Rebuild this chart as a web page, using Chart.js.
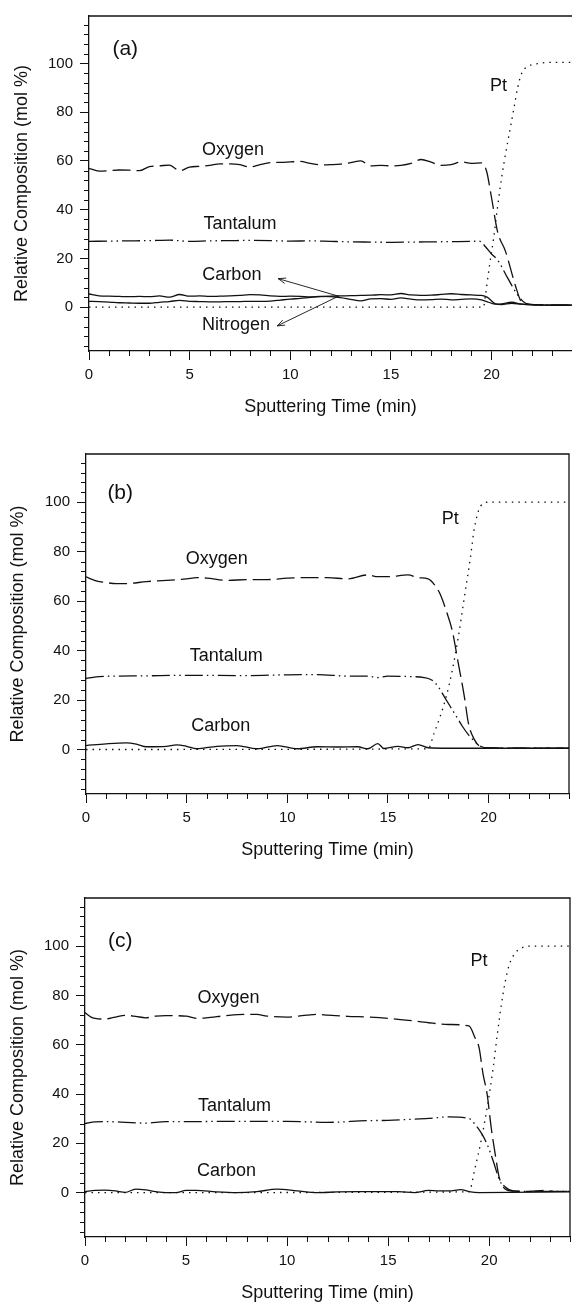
<!DOCTYPE html>
<html>
<head>
<meta charset="utf-8">
<script src="https://cdn.jsdelivr.net/npm/chart.js@4.4.1/dist/chart.umd.min.js"></script>
<style>
  html, body { margin: 0; padding: 0; background: #fff; width: 572px; height: 1305px; overflow: hidden; }
  canvas { position: absolute; left: 0; }
</style>
</head>
<body>
<canvas id="chartA" width="572" height="426" style="top:0px"></canvas>
<canvas id="chartB" width="572" height="443" style="top:426px"></canvas>
<canvas id="chartC" width="572" height="443" style="top:869px"></canvas>
<script>
// ---- panel (a) ----
const tA_O = [0,0.5,1,1.5,2,2.5,3,3.5,4,4.5,5,5.5,6,6.5,7,7.5,8,8.5,9,9.5,10,10.5,11,11.5,12,12.5,13,13.5,14,14.5,15,15.5,16,16.5,17,17.5,18,18.5,19,19.5,19.75,20.0,20.3,20.7,21.2,21.5,21.8,22.5,24];
const oxygenA = [57,55.8,56,56.3,56.2,56,57.7,58,58.3,56,57.5,57.8,58.2,58.8,58.8,58.5,57.5,58.5,59.3,59.4,59.6,59.8,59,58.4,58.5,58.7,59.3,60,58,58.2,58,58.2,59,60.6,59.5,58.2,58.5,59.6,59,59.2,56,45,31,22.8,8.5,2,1.2,0.9,0.8];
const tA_T = [0,1,2,3,4,5,6,7,8,9,10,11,12,13,14,15,16,17,18,19,19.4,19.7,20,20.3,20.8,21.3,21.7,22.2,24];
const tantalumA = [27,27.1,27.2,27.3,27.5,27.0,27.2,27.3,27.4,27.3,27.1,27.2,27.0,26.8,26.7,26.6,26.7,26.8,26.9,27.0,27.1,24.8,21.8,19.4,12,5,1.6,1,0.8];
const tA_P = [0,19.6,19.7,19.9,20.1,20.3,20.5,20.7,20.9,21.1,21.3,21.5,21.8,22.2,23,24];
const platinumA = [0,0,5,17,28,41,53,63,72,81,90,96,98.8,99.8,100.5,100.5];
const tA_CN = [0,0.5,1,1.5,2,2.5,3,3.5,4,4.5,5,5.5,6,6.5,7,7.5,8,8.5,9,9.5,10,10.5,11,11.5,12,12.5,13,13.5,14,14.5,15,15.5,16,16.5,17,17.5,18,18.5,19,19.5,19.8,20.2,20.5,21,21.5,22,23,24];
const carbonA = [5.4,4.6,4.5,4.4,4.3,4.4,4.3,4.6,4.1,5.2,4.5,4.6,4.4,4.5,4.6,4.8,5.1,5.0,4.6,4.4,4.5,4.4,4.2,4.4,4.3,3.9,3.2,2.6,3.4,3.5,3.2,3.8,3.3,3.0,3.1,3.3,3.0,3.2,3.4,3.0,2.2,1.2,1.3,2.0,1.2,0.9,0.8,0.8];
const nitrogenA = [2.4,2.3,2.1,1.8,1.7,1.6,1.6,2.0,2.3,2.8,2.4,2.3,2.2,2.2,2.3,2.3,2.4,2.4,2.5,2.9,3.3,3.6,4.0,4.3,4.5,4.6,4.7,4.8,4.9,5.1,5.0,5.6,5.0,4.8,4.9,5.2,5.5,5.2,5.0,4.8,4.0,1.3,1.0,1.6,1.2,1.0,0.8,0.8];

// ---- panel (b) ----
const tB_O = [0,0.5,1,1.5,2,3,4,5,5.5,6,7,8,9,10,11,12,13,14,14.5,15,16,16.5,17,17.3,17.6,17.9,18.2,18.5,18.8,19,19.3,19.6,20,24];
const oxygenB = [69.8,68.2,67.5,67.1,67.1,67.9,68.4,69,69.5,69.3,68.4,68.7,68.7,69.3,69.5,69.5,69,70.6,69.9,69.9,70.6,69.5,69,66.8,62.8,56.1,48,34.8,21.4,10.7,4,1.1,0.6,0.5];
const tB_T = [0,0.5,1,3,5,8,10,11.5,13,14,14.5,15,16,16.8,17.2,17.5,17.8,18.1,18.4,18.7,19,19.3,19.6,20,24];
const tantalumB = [28.7,29.4,29.6,29.8,30,29.9,30.2,30.3,29.7,29.7,29.1,29.7,29.5,29.1,28,25.4,21.4,17.4,13.4,9.4,6,3.3,1.3,0.6,0.5];
const tB_C = [0,1,2,2.5,3,4,4.5,5,5.5,6.5,7.5,8.5,9.5,10.5,11.5,12.5,13.5,14,14.5,14.8,15.5,16,16.5,17,18,24];
const carbonB = [1.6,2.3,2.7,2.2,1.1,1.3,1.9,1.3,0.3,1.3,1.6,0.3,1.6,0.3,1.1,1.0,1.1,0.3,2.4,0.4,1.3,0.7,2.0,0.7,0.5,0.5];
const tB_P = [0,17,17.3,17.6,17.9,18.2,18.5,18.8,19.1,19.3,19.6,20,24];
const platinumB = [0,0.3,6.7,13.4,21.4,32,45.5,61.5,77.5,89.6,98.3,100,100];

// ---- panel (c) ----
const tC_O = [0,0.3,0.5,1,1.5,2,2.5,3,3.5,4,5,5.5,6,7,8,8.5,9,10,11,11.5,12,13,14,15,16,17,18,19,19.3,19.5,19.7,19.9,20.1,20.3,20.5,20.8,21.2,22,22.7,23.2,24];
const oxygenC = [73,71.2,70.7,70.4,71.2,71.9,71.5,70.9,71.6,71.8,71.6,70.7,70.9,71.8,72.3,72.3,71.6,71.2,72,72.3,72,71.5,71.2,70.7,69.9,68.9,68.2,67.6,62.8,58.8,48,39.9,26.4,15.5,6.1,2.3,0.7,0.5,0.9,0.5,0.5];
const tC_T = [0,0.5,1,3,4,5,7,10,12,14,15,16,17,18,19,19.3,19.6,19.9,20.2,20.5,20.8,21.2,22,24];
const tantalumC = [28,28.7,28.8,28.2,28.8,28.8,28.9,28.9,28.5,29.2,29.3,29.7,30.1,30.7,30.1,27.7,24.3,19.6,12.8,5.4,1.4,0.6,0.5,0.5];
const tC_C = [0,0.5,1,1.5,2,2.5,3,3.5,4,4.5,5,5.5,6.5,7.5,8.5,9.5,10.5,11.5,12.5,13.5,14.5,15.5,16.3,17,17.5,18,18.6,19,19.5,24];
const carbonC = [0.4,0.9,1.0,0.7,0.1,1.4,1.1,0.4,0,0,0.9,0.9,0.3,0,0.4,1.4,0.7,0,0.3,0.4,0.4,0.4,0,0.9,0.7,0.7,1.2,0.4,0,0.3];
const tC_P = [0,19,19.3,19.6,19.9,20.2,20.4,20.6,20.8,21,21.3,21.7,22,24];
const platinumC = [0,0.3,10,21,34.5,50.7,64,76,85.8,92.6,97.3,99.6,100,100];

// ticks
const xTickLabels = [0, 5, 10, 15, 20];
const yTickLabels = [0, 20, 40, 60, 80, 100];

const FONT = "'Liberation Sans', Arial, Helvetica, sans-serif";
const INK = '#111';

function zip(xs, ys) {
    return xs.map((x, i) => ({ x: x, y: ys[i] }));
}

function series(xs, ys, dash) {
    return {
        data: zip(xs, ys),
        borderColor: INK,
        borderWidth: 1.3,
        borderDash: dash,
        pointRadius: 0,
        fill: false,
        cubicInterpolationMode: 'monotone',
        borderCapStyle: 'butt'
    };
}

const DASH_O = [18, 6];
const DASH_T = [18, 4, 1.5, 4, 1.5, 4];
const DASH_P = [1.5, 5];

// frame, minor ticks, in-plot labels and arrows
const decor = {
    id: 'decor',
    afterDraw(chart, args, opts) {
        const ctx = chart.ctx;
        const a = chart.chartArea;
        const x = chart.scales.x, y = chart.scales.y;
        ctx.save();
        ctx.strokeStyle = INK;
        ctx.lineWidth = 1.3;
        ctx.beginPath();
        ctx.moveTo(a.left, a.top);
        ctx.lineTo(a.right, a.top);
        if (!opts.noRight) ctx.lineTo(a.right, a.bottom);
        ctx.stroke();

        ctx.lineWidth = 1;
        ctx.beginPath();
        for (let v = 1; v <= 24; v++) {
            if (v % 5 === 0) continue;
            const px = Math.round(x.getPixelForValue(v)) + 0.5;
            ctx.moveTo(px, a.bottom);
            ctx.lineTo(px, a.bottom + 5);
        }
        for (let v = -16; v <= 116; v += 4) {
            if (v % 20 === 0) continue;
            const py = Math.round(y.getPixelForValue(v)) + 0.5;
            ctx.moveTo(a.left - 5, py);
            ctx.lineTo(a.left, py);
        }
        ctx.stroke();

        ctx.fillStyle = INK;
        ctx.textAlign = 'center';
        ctx.textBaseline = 'middle';
        (opts.labels || []).forEach(l => {
            ctx.font = (l.size || 18) + 'px ' + FONT;
            ctx.fillText(l.text, x.getPixelForValue(l.t), y.getPixelForValue(l.v));
        });

        ctx.lineWidth = 0.9;
        (opts.arrows || []).forEach(ar => {
            const x0 = x.getPixelForValue(ar.from[0]), y0 = y.getPixelForValue(ar.from[1]);
            const x1 = x.getPixelForValue(ar.to[0]), y1 = y.getPixelForValue(ar.to[1]);
            const ang = Math.atan2(y1 - y0, x1 - x0);
            ctx.beginPath();
            ctx.moveTo(x0, y0);
            ctx.lineTo(x1, y1);
            ctx.moveTo(x1 - 8 * Math.cos(ang - 0.35), y1 - 8 * Math.sin(ang - 0.35));
            ctx.lineTo(x1, y1);
            ctx.lineTo(x1 - 8 * Math.cos(ang + 0.35), y1 - 8 * Math.sin(ang + 0.35));
            ctx.stroke();
        });
        ctx.restore();
    }
};

function makeChart(id, datasets, p) {
    return new Chart(document.getElementById(id), {
        type: 'line',
        data: { datasets: datasets },
        plugins: [decor],
        options: {
            responsive: false,
            animation: false,
            devicePixelRatio: 1,
            layout: { padding: { top: p.padTop, right: p.padRight, left: 0, bottom: 0 } },
            plugins: {
                legend: { display: false },
                tooltip: { enabled: false },
                decor: { labels: p.labels, arrows: p.arrows, noRight: p.noRight }
            },
            scales: {
                x: {
                    type: 'linear',
                    min: 0,
                    max: 24,
                    afterBuildTicks: s => { s.ticks = xTickLabels.map(v => ({ value: v })); },
                    afterFit: s => { s.height = 75; },
                    grid: { drawOnChartArea: false, tickLength: 9, color: INK, lineWidth: 1 },
                    border: { display: true, color: INK, width: 1.3 },
                    ticks: { color: INK, font: { family: FONT, size: 15 }, padding: 6, maxRotation: 0 },
                    title: { display: true, text: 'Sputtering Time (min)', color: INK, font: { family: FONT, size: 18 }, padding: { top: 0, bottom: 8 } }
                },
                y: {
                    type: 'linear',
                    min: -18,
                    max: 119.5,
                    afterBuildTicks: s => { s.ticks = yTickLabels.map(v => ({ value: v })); },
                    afterFit: s => { s.width = p.leftW; },
                    grid: { drawOnChartArea: false, tickLength: 9, color: INK, lineWidth: 1 },
                    border: { display: true, color: INK, width: 1.3 },
                    ticks: { color: INK, font: { family: FONT, size: 15 }, padding: 7 },
                    title: { display: true, text: 'Relative Composition (mol %)', color: INK, font: { family: FONT, size: 18 }, padding: { top: p.titleX, bottom: 0 } }
                }
            }
        }
    });
}

makeChart('chartA', [
    series(tA_P, platinumA, DASH_P),
    series(tA_CN, carbonA, []),
    series(tA_CN, nitrogenA, []),
    series(tA_T, tantalumA, DASH_T),
    series(tA_O, oxygenA, DASH_O)
], {
    padTop: 13, padRight: 0, leftW: 89, titleX: 11, noRight: true,
    labels: [
        { text: '(a)', t: 1.8, v: 106, size: 21 },
        { text: 'Oxygen', t: 7.15, v: 64.4 },
        { text: 'Tantalum', t: 7.5, v: 34 },
        { text: 'Carbon', t: 7.1, v: 13 },
        { text: 'Nitrogen', t: 7.3, v: -7.3 },
        { text: 'Pt', t: 20.35, v: 90.8 }
    ],
    arrows: [
        { from: [12.4, 4.5], to: [9.4, 11.7] },
        { from: [12.4, 4.5], to: [9.35, -7.7] }
    ]
});

makeChart('chartB', [
    series(tB_P, platinumB, DASH_P),
    series(tB_C, carbonB, []),
    series(tB_T, tantalumB, DASH_T),
    series(tB_O, oxygenB, DASH_O)
], {
    padTop: 28, padRight: 3, leftW: 86, titleX: 7,
    labels: [
        { text: '(b)', t: 1.7, v: 103.6, size: 21 },
        { text: 'Oxygen', t: 6.5, v: 76.9 },
        { text: 'Tantalum', t: 6.97, v: 37.7 },
        { text: 'Carbon', t: 6.7, v: 9.6 },
        { text: 'Pt', t: 18.1, v: 93.3 }
    ]
});

makeChart('chartC', [
    series(tC_P, platinumC, DASH_P),
    series(tC_C, carbonC, []),
    series(tC_T, tantalumC, DASH_T),
    series(tC_O, oxygenC, DASH_O)
], {
    padTop: 29, padRight: 2, leftW: 85, titleX: 7,
    labels: [
        { text: '(c)', t: 1.75, v: 102, size: 21 },
        { text: 'Oxygen', t: 7.1, v: 79 },
        { text: 'Tantalum', t: 7.4, v: 35 },
        { text: 'Carbon', t: 7, v: 8.8 },
        { text: 'Pt', t: 19.5, v: 94 }
    ]
});
</script>
</body>
</html>
